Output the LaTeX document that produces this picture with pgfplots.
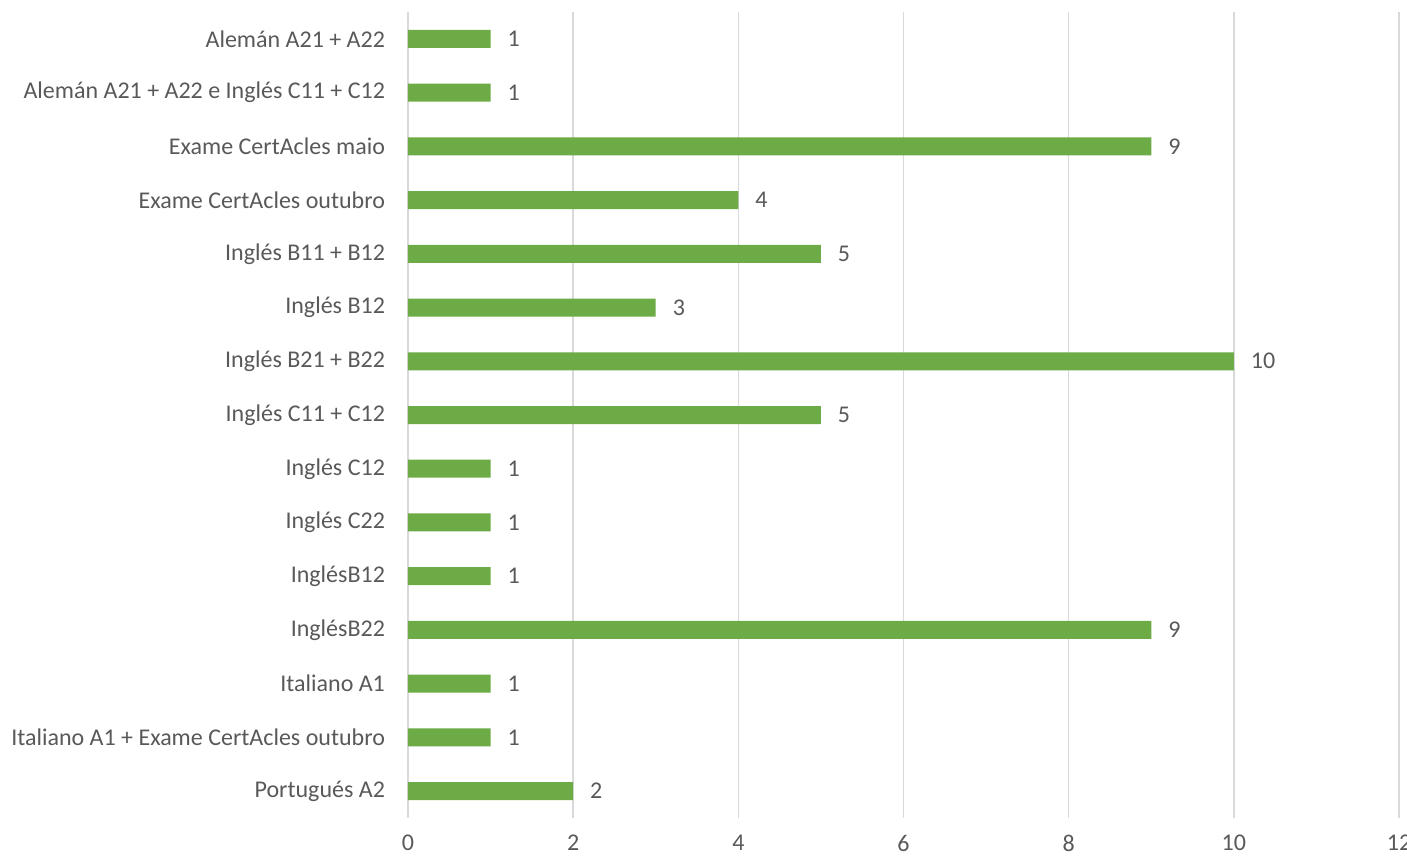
\documentclass[border=0pt]{standalone}
\usepackage{fontspec}
\setmainfont{Carlito}
\usepackage{pgfplots}
\pgfplotsset{compat=1.18}
\definecolor{barcolor}{HTML}{6DAB46}
\definecolor{textgray}{HTML}{595959}
\definecolor{gridgray}{HTML}{D9D9D9}

\begin{document}
\begin{tikzpicture}
\begin{axis}[
    scale only axis,
    width=495.5pt,
    height=403pt,
    at={(0,0)},
    anchor=south west,
    xbar,
    bar width=9pt,
    xmin=0, xmax=12,
    ymin=-0.5, ymax=14.5,
    y dir=reverse,
    xtick={0,2,...,12},
    ytick={0,...,14},
    yticklabels={
        Alemán A21 + A22,
        Alemán A21 + A22 e Inglés C11 + C12,
        Exame CertAcles maio,
        Exame CertAcles outubro,
        Inglés B11 + B12,
        Inglés B12,
        Inglés B21 + B22,
        Inglés C11 + C12,
        Inglés C12,
        Inglés C22,
        InglésB12,
        InglésB22,
        Italiano A1,
        Italiano A1 + Exame CertAcles outubro,
        Portugués A2},
    xmajorgrids,
    grid style={gridgray, line width=0.75pt},
    axis line style={draw=none},
    major tick length=0pt,
    tick label style={font=\fontsize{12}{14}\selectfont, text=textgray},
    /pgf/number format/assume math mode=true,
    xticklabel style={inner sep=0pt, yshift=-8.5pt},
    yticklabel style={xshift=-8pt},
    nodes near coords,
    nodes near coords style={font=\fontsize{12}{14}\selectfont, text=textgray, anchor=west, xshift=5pt},
    point meta=explicit symbolic,
    clip=false,
]
\addplot[fill=barcolor, draw=none] coordinates {
    (1,0) [1]
    (1,1) [1]
    (9,2) [9]
    (4,3) [4]
    (5,4) [5]
    (3,5) [3]
    (10,6) [10]
    (5,7) [5]
    (1,8) [1]
    (1,9) [1]
    (1,10) [1]
    (9,11) [9]
    (1,12) [1]
    (1,13) [1]
    (2,14) [2]
};
\end{axis}
\pgfresetboundingbox
\path[use as bounding box] (-204pt,-19.5pt) rectangle (499.5pt,409pt);
\end{tikzpicture}
\end{document}
